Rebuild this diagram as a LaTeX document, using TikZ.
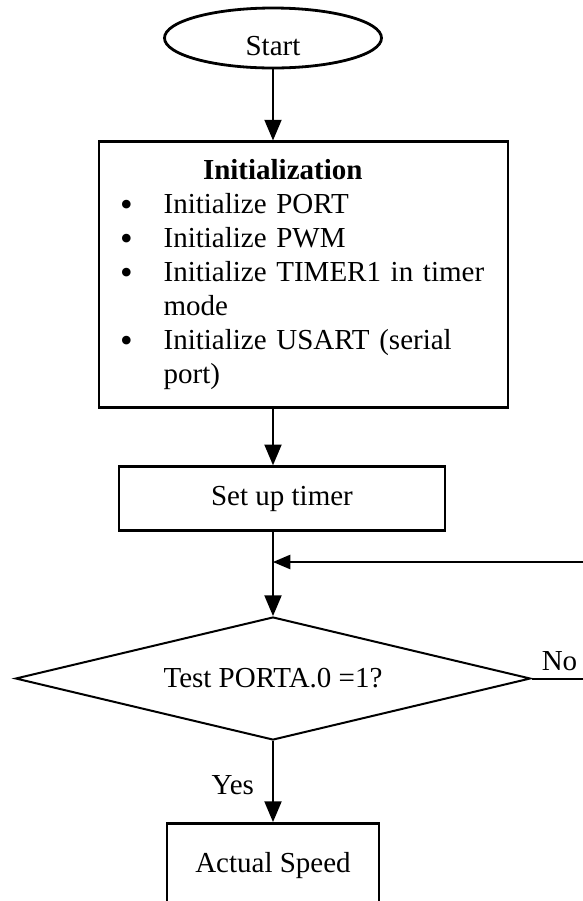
\documentclass[tikz,border=0pt]{standalone}
\usepackage{fontspec}
\setmainfont{Liberation Serif}
\usepackage{tikz}
\usetikzlibrary{shapes, arrows, positioning}

\newcommand{\bigbullet}{\raisebox{-1.2pt}{\fontsize{18}{12}\selectfont\textbullet}}

\begin{document}
\begin{tikzpicture}[
    every node/.style={font=\fontsize{14.5}{17}\selectfont},
    box/.style={rectangle, draw=black, line width=1.4pt, inner sep=0pt},
    startbox/.style={ellipse, draw=black, line width=1.4pt, inner sep=0pt, minimum width=108.5pt, minimum height=30pt, text height=17pt, text depth=0pt},
    decision/.style={diamond, draw=black, line width=1pt, inner sep=0pt, aspect=4.19, minimum width=257.5pt, minimum height=61.5pt},
    arrow/.style={->, line width=1.4pt, >=triangle 45},
    loopline/.style={->, line width=1pt, >=triangle 45}
]
\useasboundingbox (0,0) rectangle (291.5pt,-450.5pt);

\node[startbox] (start) at (136.5pt,-19pt) {Start};
\node[box, below=35.5pt of start, xshift=15.25pt, text width=204.5pt, align=left, minimum height=133pt] (init) {%
    \begin{tabular}{@{\hspace{10.5pt}}c@{\hspace{15.5pt}}l@{}}
    \multicolumn{2}{@{\hspace{52pt}}l@{}}{\textbf{Initialization}}\\
    \bigbullet & Initialize PORT\\
    \bigbullet & Initialize PWM\\
    \bigbullet & Initialize TIMER1 in timer\\
               & mode\\
    \bigbullet & Initialize USART (serial\\
               & port)
    \end{tabular}};
\node[box, below=28pt of init, xshift=-10.75pt, minimum width=163pt, minimum height=32pt] (setup) {Set up timer};
\node[decision, below=42pt of setup, xshift=-4.5pt] (test) {Test PORTA.0 =1?};
\node[box, below=40.5pt of test, minimum width=106pt, inner ysep=4pt, text height=20.5pt, text depth=30pt] (actual) {Actual Speed};

% loop comes back in just above the test
\coordinate[above=27pt of test.north] (join);

\draw[arrow] (start) -- (start |- init.north);
\draw[arrow] (start |- init.south) -- (start |- setup.north);
\draw[arrow] (start |- setup.south) -- (test.north);
\draw[loopline] (test.east) -- node[above, pos=0.35] {No} ++(40pt,0) |- (join);
\draw[arrow] (test.south) -- node[left, pos=0.55, xshift=-5.5pt] {Yes} (actual.north);
\end{tikzpicture}
\end{document}
